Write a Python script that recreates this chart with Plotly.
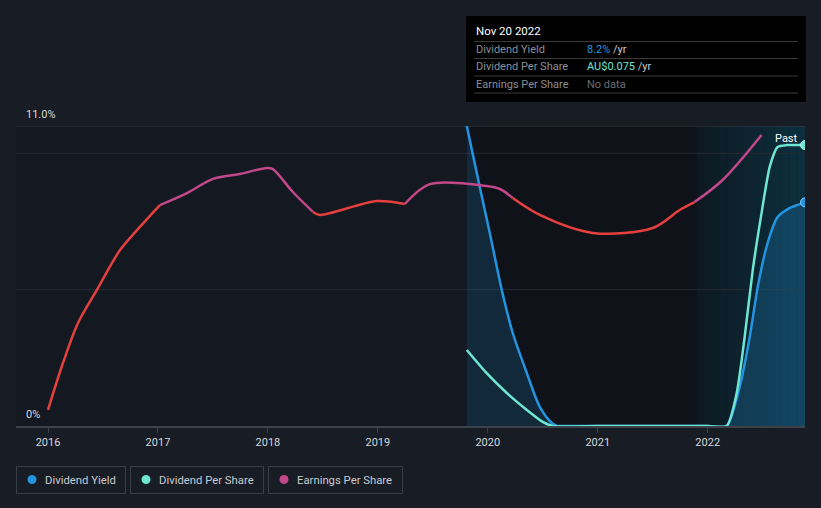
import plotly.graph_objects as go

# ---------------- data ----------------
yield_years = [2019.809, 2019.927, 2020.018, 2020.127, 2020.227, 2020.355, 2020.473, 2020.582, 2020.627,
               2021.0, 2021.5, 2022.0, 2022.173, 2022.291, 2022.382, 2022.455, 2022.545, 2022.636,
               2022.745, 2022.885]
yield_pct = [11.0, 8.76, 7.08, 4.99, 3.41, 1.94, 0.70, 0.11, 0.0,
             0.0, 0.0, 0.0, 0.0, 1.43, 3.26, 5.10, 6.71, 7.66,
             7.99, 8.2]

dps_years = [2019.809, 2019.99, 2020.173, 2020.355, 2020.5, 2020.59,
             2021.0, 2021.5, 2022.0, 2022.173, 2022.264, 2022.336, 2022.41, 2022.49, 2022.564,
             2022.636, 2022.72, 2022.885]
dps_aud = [0.0203, 0.0141, 0.0088, 0.0043, 0.0011, 0.0,
           0.0, 0.0, 0.0, 0.0, 0.0088, 0.0237, 0.0417, 0.0569, 0.0692,
           0.0745, 0.075, 0.075]

eps_years = [2016.0, 2016.136, 2016.273, 2016.445, 2016.655, 2016.836, 2017.018, 2017.264, 2017.5,
             2017.745, 2017.99, 2018.045, 2018.227, 2018.41, 2018.473, 2018.99, 2019.245, 2019.473,
             2019.99, 2020.11, 2020.227, 2020.473, 2020.955, 2021.5, 2021.745, 2021.88, 2022.136, 2022.49]
eps_aud = [0.0059, 0.0231, 0.0378, 0.0499, 0.0645, 0.0730, 0.0810, 0.0854, 0.0906,
           0.0924, 0.0946, 0.0942, 0.0858, 0.0785, 0.0774, 0.0825, 0.0814, 0.0887,
           0.0880, 0.0869, 0.0836, 0.0774, 0.0708, 0.0726, 0.0792, 0.0821, 0.0902, 0.1067]
# index boundaries of the colour segments of the EPS line (red / purple)
eps_segments = [(0, 6, "red"), (6, 13, "purple"), (13, 16, "red"), (16, 20, "purple"),
                (20, 25, "red"), (25, 27, "purple")]

tick_years = [2016, 2017, 2018, 2019, 2020, 2021, 2022]
x_range = [2015.709, 2022.885]
past_start = 2021.9
dark_start = 2019.809

# ---------------- styling ----------------
BLUE = "#2394df"
TEAL = "#6ee6d4"
RED = "#e5403d"
PURPLE = "#c2478b"
W, H = 821, 508
L, R, T, B = 16, 16, 126, 82
PW, PH = W - L - R, H - T - B


def px(x, y):
    return (x - L) / PW, (H - B - y) / PH


fig = go.Figure()

# dividend yield (primary axis)
fig.add_trace(go.Scatter(x=yield_years[:9], y=yield_pct[:9], mode="lines",
                         line=dict(color=BLUE, width=2.5, shape="spline", smoothing=0.8),
                         fill="tozeroy", fillcolor="rgba(35,148,223,0.18)", hoverinfo="skip"))
fig.add_trace(go.Scatter(x=yield_years[8:], y=yield_pct[8:], mode="lines",
                         line=dict(color=BLUE, width=2.5, shape="spline", smoothing=0.6),
                         fill="tozeroy", fillcolor="rgba(35,148,223,0.22)", hoverinfo="skip"))
fig.add_trace(go.Scatter(x=[yield_years[-1]], y=[yield_pct[-1]], mode="markers",
                         marker=dict(color=BLUE, size=9, line=dict(color="#8fd0ff", width=1)),
                         hoverinfo="skip"))

# dividend per share (hidden y2)
fig.add_trace(go.Scatter(x=dps_years, y=dps_aud, mode="lines", yaxis="y2",
                         line=dict(color=TEAL, width=2.5, shape="spline", smoothing=0.6),
                         hoverinfo="skip"))
fig.add_trace(go.Scatter(x=[dps_years[-1]], y=[dps_aud[-1]], mode="markers", yaxis="y2",
                         marker=dict(color=TEAL, size=9, line=dict(color="#b8fff4", width=1)),
                         hoverinfo="skip"))

# earnings per share (hidden y3)
for i0, i1, c in eps_segments:
    fig.add_trace(go.Scatter(x=eps_years[i0:i1 + 1], y=eps_aud[i0:i1 + 1], mode="lines", yaxis="y3",
                             line=dict(color=RED if c == "red" else PURPLE, width=2.5,
                                       shape="spline", smoothing=0.9),
                             hoverinfo="skip"))

shapes = []
# darker band and "past" gradient band
shapes.append(dict(type="rect", xref="x", yref="paper", x0=dark_start, x1=past_start, y0=0, y1=1,
                   fillcolor="#0f1218", line=dict(width=0), layer="below"))
n = 14
c0 = (13, 26, 34)
c1 = (12, 47, 62)
for k in range(n):
    t = k / (n - 1)
    col = "rgb(%d,%d,%d)" % tuple(round(a + (b - a) * t) for a, b in zip(c0, c1))
    xa = past_start + (x_range[1] - past_start) * k / n
    xb = past_start + (x_range[1] - past_start) * (k + 1) / n
    shapes.append(dict(type="rect", xref="x", yref="paper", x0=xa, x1=xb + 0.002, y0=0, y1=1,
                       fillcolor=col, line=dict(width=0), layer="below"))
# grid lines
for yv, col in [(5, "#262a32"), (10, "#262a32"), (11, "#3a3e46")]:
    shapes.append(dict(type="line", xref="paper", yref="y", x0=0, x1=1, y0=yv, y1=yv,
                       line=dict(color=col, width=1), layer="below"))

# tooltip box
x0, y0 = px(466, 16)
x1, y1 = px(806, 102)
shapes.append(dict(type="rect", xref="paper", yref="paper", x0=x0, x1=x1, y0=y1, y1=y0,
                   fillcolor="#000000", line=dict(width=0), layer="above"))
for ly in [41.5, 58.5, 76, 93]:
    a, b = px(474, ly)
    c, _ = px(798, ly)
    shapes.append(dict(type="line", xref="paper", yref="paper", x0=a, x1=c, y0=b, y1=b,
                       line=dict(color="#3a3a3a", width=1), layer="above"))

# legend boxes
legend_items = [("Dividend Yield", BLUE, 16, 126), ("Dividend Per Share", TEAL, 130, 264),
                ("Earnings Per Share", PURPLE, 268, 403)]
annotations = []
for name, col, bx0, bx1 in legend_items:
    a, b = px(bx0 + 0.5, 466.5)
    c, d = px(bx1 - 0.5, 493.5)
    shapes.append(dict(type="rect", xref="paper", yref="paper", x0=a, x1=c, y0=d, y1=b,
                       line=dict(color="#3a3e47", width=1), fillcolor="rgba(0,0,0,0)"))
    cx, cy = px(bx0 + 16, 479.5)
    rx, ry = 4.5 / PW, 4.5 / PH
    shapes.append(dict(type="circle", xref="paper", yref="paper", x0=cx - rx, x1=cx + rx,
                       y0=cy - ry, y1=cy + ry, fillcolor=col, line=dict(width=0)))
    tx, ty = px(bx0 + 27, 480)
    annotations.append(dict(xref="paper", yref="paper", x=tx, y=ty, text=name, showarrow=False,
                            xanchor="left", yanchor="middle",
                            font=dict(family="Roboto", size=11.3, color="#c8cbd0")))

# y labels
for label, yy in [("11.0%", 114.5), ("0%", 414.5)]:
    a, b = px(24, yy)
    annotations.append(dict(xref="paper", yref="paper", x=a, y=b, text=label, showarrow=False,
                            xanchor="left", yanchor="middle",
                            font=dict(family="Roboto", size=11, color="#d6d8dc")))

# Past label
a, b = px(786, 138)
annotations.append(dict(xref="paper", yref="paper", x=a, y=b, text="Past", showarrow=False,
                        xanchor="center", yanchor="middle",
                        font=dict(family="Roboto", size=11, color="#ffffff")))

# tooltip text
tt = [("Nov 20 2022", 474, 31, "#ffffff", 11.5),
      ("Dividend Yield", 474, 49.5, "#8a8e96", 11),
      ("Dividend Per Share", 474, 66.5, "#8a8e96", 11),
      ("Earnings Per Share", 474, 84.5, "#8a8e96", 11),
      ("<span style='color:%s'>8.2%%</span> /yr" % BLUE, 585, 49.5, "#c8cbd0", 11),
      ("<span style='color:%s'>AU$0.075</span> /yr" % TEAL, 585, 66.5, "#c8cbd0", 11),
      ("No data", 585, 84.5, "#6a6e76", 11)]
for text, xx, yy, col, fs in tt:
    a, b = px(xx, yy)
    annotations.append(dict(xref="paper", yref="paper", x=a, y=b, text=text, showarrow=False,
                            xanchor="left", yanchor="middle",
                            font=dict(family="Roboto", size=fs, color=col)))

fig.update_layout(
    width=W, height=H,
    margin=dict(l=L, r=R, t=T, b=B, pad=0),
    paper_bgcolor="#181c25",
    plot_bgcolor="#141820",
    showlegend=False,
    hovermode=False,
    xaxis=dict(range=x_range, tickvals=tick_years, ticktext=[str(t) for t in tick_years],
               showgrid=False, zeroline=False, showline=True, linecolor="#3d414a", linewidth=1.5,
               ticks="outside", ticklen=5, tickcolor="#3d414a",
               tickfont=dict(family="Roboto", size=11, color="#d6d8dc"), fixedrange=True),
    yaxis=dict(range=[0, 11], visible=False, fixedrange=True),
    yaxis2=dict(range=[0, 0.0801], overlaying="y", visible=False),
    yaxis3=dict(range=[0, 0.11], overlaying="y", visible=False),
    shapes=shapes,
    annotations=annotations,
)

fig.write_html("out.html")
